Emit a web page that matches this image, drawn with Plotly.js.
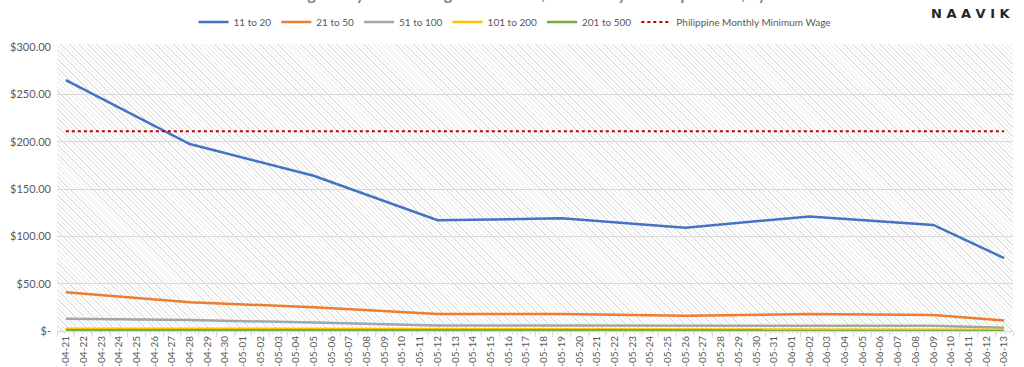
<!DOCTYPE html>
<html>
<head>
<meta charset="utf-8">
<script src="https://cdn.plot.ly/plotly-3.0.1.min.js"></script>
<style>
  html, body { margin: 0; padding: 0; background: #ffffff; }
  #wrap { position: relative; width: 1024px; height: 367px; overflow: hidden; }
  #hatch { position: absolute; left: 57px; top: 44px; width: 956px; height: 290px;
    background: repeating-linear-gradient(45deg, #ffffff 0px, #ffffff 2.2px, #e4e4e4 2.2px, #e4e4e4 3.2px); }
  #chart { position: absolute; left: 0; top: 0; width: 1024px; height: 367px; }
</style>
</head>
<body>
<div id="wrap">
  <div id="hatch"></div>
  <div id="chart"></div>
</div>
<script>
// All category labels on the x axis
const categories = [
  "2022-04-21","2022-04-22","2022-04-23","2022-04-24","2022-04-25","2022-04-26","2022-04-27",
  "2022-04-28","2022-04-29","2022-04-30","2022-05-01","2022-05-02","2022-05-03","2022-05-04",
  "2022-05-05","2022-05-06","2022-05-07","2022-05-08","2022-05-09","2022-05-10","2022-05-11",
  "2022-05-12","2022-05-13","2022-05-14","2022-05-15","2022-05-16","2022-05-17","2022-05-18",
  "2022-05-19","2022-05-20","2022-05-21","2022-05-22","2022-05-23","2022-05-24","2022-05-25",
  "2022-05-26","2022-05-27","2022-05-28","2022-05-29","2022-05-30","2022-05-31","2022-06-01",
  "2022-06-02","2022-06-03","2022-06-04","2022-06-05","2022-06-06","2022-06-07","2022-06-08",
  "2022-06-09","2022-06-10","2022-06-11","2022-06-12","2022-06-13"
];
// Dates that carry observations
const obsDates = ["2022-04-21","2022-04-28","2022-05-05","2022-05-12","2022-05-19",
                  "2022-05-26","2022-06-02","2022-06-09","2022-06-13"];

const s11to20   = [265, 197.5, 164, 117, 119, 109, 121, 112, 77];
const s21to50   = [41, 30.5, 25, 18, 18, 16, 18, 17, 11];
const s51to100  = [13, 11.5, 9, 5.8, 5.8, 5.5, 5.8, 5.5, 3.5];
const s101to200 = [2.5, 2.3, 2.1, 1.9, 1.9, 1.8, 1.9, 1.8, 1.3];
const s201to500 = [0.9, 0.8, 0.7, 0.6, 0.6, 0.6, 0.6, 0.6, 0.4];
const minWage   = [211, 211, 211, 211, 211, 211, 211, 211, 211];

const yTickVals  = [0, 50, 100, 150, 200, 250, 300];
const yTickText  = ["$-", "$50.00", "$100.00", "$150.00", "$200.00", "$250.00", "$300.00"];

const seriesNames = ["11 to 20", "21 to 50", "51 to 100", "101 to 200", "201 to 500",
                     "Philippine Monthly Minimum Wage"];
const titleText = "Average Daily SLP Earnings of Scholars, in Monthly USD Equivalent, by Rank";

const FONT = "Lato, 'Open Sans', sans-serif";

function lineTrace(name, y, color, dash, width) {
  return {
    type: "scatter", mode: "lines", name: name,
    x: obsDates, y: y, connectgaps: true,
    line: { color: color, width: width, dash: dash },
    hoverinfo: "x+y+name"
  };
}

const data = [
  lineTrace(seriesNames[0], s11to20,   "#4472C4", "solid", 2.5),
  lineTrace(seriesNames[1], s21to50,   "#ED7D31", "solid", 2.5),
  lineTrace(seriesNames[2], s51to100,  "#A5A5A5", "solid", 2.5),
  lineTrace(seriesNames[3], s101to200, "#FFC000", "solid", 2.5),
  lineTrace(seriesNames[4], s201to500, "#70AD47", "solid", 2.5),
  lineTrace(seriesNames[5], minWage,   "#C00000", "dot",   2)
];

const layout = {
  width: 1024, height: 367,
  margin: { l: 57, r: 11, t: 47, b: 36, pad: 0 },
  paper_bgcolor: "rgba(0,0,0,0)",
  plot_bgcolor: "rgba(0,0,0,0)",
  font: { family: FONT, size: 10, color: "#595959" },
  showlegend: true,
  legend: {
    orientation: "h", xref: "container", yref: "container",
    x: 0.503, xanchor: "center", y: 0.94, yanchor: "middle",
    font: { family: FONT, size: 10, color: "#595959" },
    itemwidth: 30, bgcolor: "rgba(0,0,0,0)", traceorder: "normal"
  },
  xaxis: {
    type: "category", categoryorder: "array", categoryarray: categories,
    range: [-0.5, categories.length - 0.5],
    tickangle: -90, tickson: "boundaries", ticks: "outside", ticklen: 5,
    tickcolor: "#d9d9d9", showgrid: false, showline: true, linecolor: "#d9d9d9",
    tickfont: { family: FONT, size: 10, color: "#595959" },
    automargin: false, fixedrange: true
  },
  yaxis: {
    range: [0, 300], tickvals: yTickVals, ticktext: yTickText,
    showgrid: true, gridcolor: "#d9d9d9", gridwidth: 1, zeroline: false,
    showline: false, ticks: "", ticklabelstandoff: 5,
    tickfont: { family: FONT, size: 11, color: "#595959" },
    automargin: false, fixedrange: true
  },
  annotations: [
    { xref: "paper", yref: "paper", x: 0.5, y: 1, yanchor: "bottom", yshift: 42,
      text: "<b>" + titleText + "</b>", showarrow: false,
      font: { family: FONT, size: 16, color: "#7f7f7f" } },
    { xref: "paper", yref: "paper", x: 1, xanchor: "right", y: 1, yanchor: "bottom", yshift: 24, xshift: 0,
      text: "<b>N A A V I K</b>", showarrow: false,
      font: { family: "'DejaVu Sans', sans-serif", size: 13, color: "#262626" } }
  ]
};

Plotly.newPlot("chart", data, layout, { displayModeBar: false, staticPlot: true });
</script>
</body>
</html>
